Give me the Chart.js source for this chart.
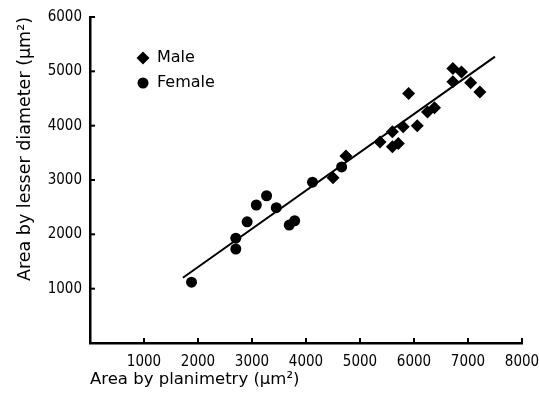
<!DOCTYPE html>
<html>
<head>
<meta charset="utf-8">
<script src="https://cdn.jsdelivr.net/npm/chart.js@4.4.1/dist/chart.umd.min.js"></script>
<style>
    body { margin: 0; background: #fff; }
    #wrap { width: 539px; height: 393px; }
</style>
</head>
<body>
<div id="wrap"><canvas id="chart" width="539" height="393"></canvas></div>
<script>
const maleX = [4500, 4740, 5370, 5600, 5600, 5710, 5800, 6060, 5900, 6250, 6380, 6720, 6720, 6880, 7050, 7220];
const maleY = [3040, 3440, 3700, 3890, 3610, 3670, 3980, 4000, 4590, 4250, 4330, 4810, 5050, 4990, 4790, 4620];
const femaleX = [1880, 2700, 2700, 2910, 3080, 3270, 3450, 3690, 3790, 4120, 4660];
const femaleY = [1120, 1730, 1930, 2230, 2540, 2710, 2490, 2170, 2250, 2960, 3240];
const fitX = [1720, 7500];
const fitY = [1200, 5270];
const xTicks = [0, 1000, 2000, 3000, 4000, 5000, 6000, 7000, 8000];
const yTicks = [0, 1000, 2000, 3000, 4000, 5000, 6000];

const FONT = '"DejaVu Sans Condensed", "DejaVu Sans", sans-serif';
const TITLE_FONT = '"DejaVu Sans", sans-serif';

const toPoints = (xs, ys) => xs.map((x, i) => ({ x: x, y: ys[i] }));

// ticks pointing into the plot, plus a small legend in the upper left
const innerTicks = {
    id: 'innerTicks',
    afterDraw(chart) {
        const { ctx, chartArea, scales } = chart;
        ctx.save();
        ctx.strokeStyle = '#000';
        ctx.lineWidth = 2;
        xTicks.slice(1).forEach(v => {
            const px = scales.x.getPixelForValue(v);
            ctx.beginPath();
            ctx.moveTo(px, chartArea.bottom);
            ctx.lineTo(px, chartArea.bottom - 5);
            ctx.stroke();
        });
        yTicks.slice(1).forEach(v => {
            const py = scales.y.getPixelForValue(v);
            ctx.beginPath();
            ctx.moveTo(chartArea.left, py);
            ctx.lineTo(chartArea.left + 5, py);
            ctx.stroke();
        });

        // legend
        ctx.fillStyle = '#000';
        ctx.font = '16px ' + TITLE_FONT;
        ctx.textBaseline = 'middle';
        chart.data.datasets.slice(0, 2).forEach((ds, i) => {
            const cx = chartArea.left + 53;
            const cy = chartArea.top + 41 + i * 25;
            Chart.helpers.drawPoint(ctx, {
                pointStyle: ds.pointStyle,
                radius: ds.pointRadius,
                borderWidth: 0
            }, cx, cy);
            ctx.fillText(ds.label, cx + 14, cy);
        });
        ctx.restore();
    }
};

new Chart(document.getElementById('chart'), {
    type: 'scatter',
    data: {
        datasets: [
            {
                label: 'Male',
                data: toPoints(maleX, maleY),
                pointStyle: 'rectRot',
                pointRadius: 6.5,
                backgroundColor: '#000',
                borderColor: '#000',
                borderWidth: 0
            },
            {
                label: 'Female',
                data: toPoints(femaleX, femaleY),
                pointStyle: 'circle',
                pointRadius: 5.5,
                backgroundColor: '#000',
                borderColor: '#000',
                borderWidth: 0
            },
            {
                label: 'fit',
                type: 'line',
                data: toPoints(fitX, fitY),
                borderColor: '#000',
                borderWidth: 2,
                pointRadius: 0,
                fill: false
            }
        ]
    },
    options: {
        responsive: false,
        animation: false,
        layout: { padding: { top: 17, right: 17, left: 0, bottom: 0 } },
        plugins: {
            legend: { display: false },
            tooltip: { enabled: false }
        },
        scales: {
            x: {
                type: 'linear',
                min: 0,
                max: 8000,
                afterFit: s => {
                    s.height = 50;
                    s.paddingLeft = 0;
                    s.paddingRight = 0;
                },
                afterBuildTicks: s => { s.ticks = xTicks.map(v => ({ value: v })); },
                border: { color: '#000', width: 2.5 },
                grid: { display: true, drawOnChartArea: false, drawTicks: false, color: 'transparent' },
                ticks: {
                    color: '#000',
                    padding: 10,
                    maxRotation: 0,
                    font: { family: FONT, size: 15 },
                    callback: v => v === 0 ? '' : String(v)
                },
                title: {
                    display: true,
                    text: 'Area by planimetry (\u03bcm\u00b2)',
                    align: 'start',
                    color: '#000',
                    padding: { top: 0, bottom: 3 },
                    font: { family: TITLE_FONT, size: 16.5 }
                }
            },
            y: {
                type: 'linear',
                min: 0,
                max: 6000,
                afterFit: s => {
                    s.width = 90;
                    s.paddingTop = 0;
                    s.paddingBottom = 0;
                },
                afterBuildTicks: s => { s.ticks = yTicks.map(v => ({ value: v })); },
                border: { color: '#000', width: 2.5 },
                grid: { display: true, drawOnChartArea: false, drawTicks: false, color: 'transparent' },
                ticks: {
                    color: '#000',
                    padding: 8,
                    font: { family: FONT, size: 15 },
                    callback: v => v === 0 ? '' : String(v)
                },
                title: {
                    display: true,
                    text: 'Area by lesser diameter (\u03bcm\u00b2)',
                    align: 'end',
                    color: '#000',
                    padding: { top: 15, bottom: 0 },
                    font: { family: TITLE_FONT, size: 17.5 }
                }
            }
        }
    },
    plugins: [innerTicks]
});
</script>
</body>
</html>
